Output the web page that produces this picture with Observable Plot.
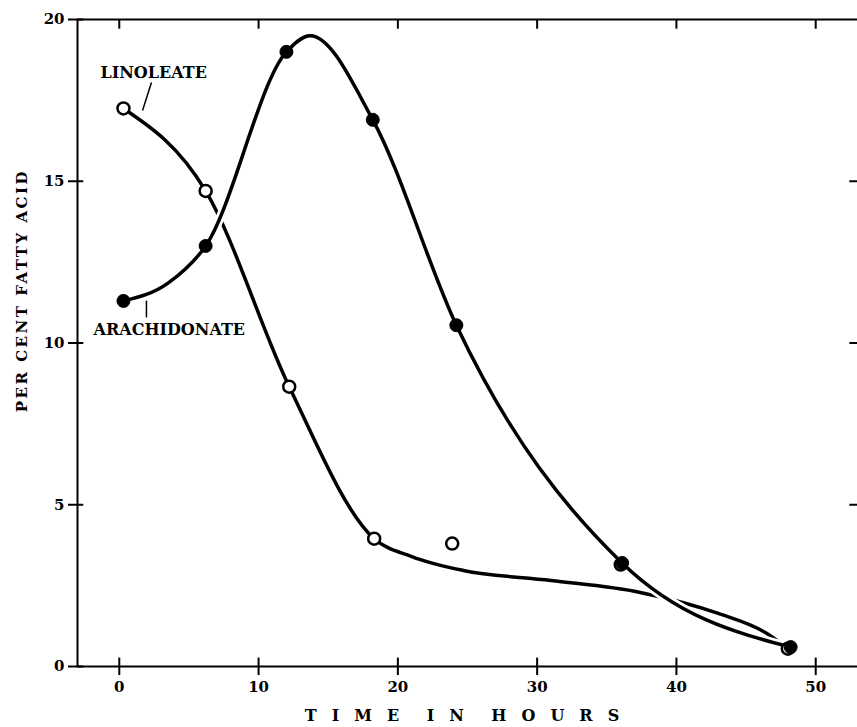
<!DOCTYPE html>
<html><head><meta charset="utf-8">
<script src="https://cdn.jsdelivr.net/npm/d3@7"></script>
<script src="https://cdn.jsdelivr.net/npm/@observablehq/plot@0.6"></script>
<style>body{margin:0;background:#fff} svg{display:block}</style>
</head><body><div id="chart"></div>
<script>
// measured points
const linoleateHours = [0.3, 6.2, 12.2, 18.3, 23.9, 36.0, 48.0];
const linoleateValues = [17.25, 14.7, 8.65, 3.95, 3.8, 3.15, 0.55];
const arachidonateHours = [0.3, 6.2, 12.0, 18.2, 24.2, 36.1, 48.2];
const arachidonateValues = [11.3, 13.0, 19.0, 16.9, 10.55, 3.2, 0.6];
// hand-drawn curves
const linoleateCurveHours = [0.3, 6.2, 12.2, 18.3, 21.0, 24.7, 31.0, 37.4, 43.0, 46.5, 48.0];
const linoleateCurveValues = [17.25, 14.7, 8.65, 3.95, 3.4, 2.97, 2.66, 2.29, 1.64, 1.02, 0.55];
const arachidonateCurveHours = [0.3, 3.5, 6.2, 12.0, 13.7, 18.2, 24.2, 36.1, 48.2];
const arachidonateCurveValues = [11.3, 11.85, 13.0, 19.0, 19.5, 16.9, 10.55, 3.2, 0.6];
const xTicks = [0, 10, 20, 30, 40, 50];
const yTicks = [0, 5, 10, 15, 20];
const seriesLabels = ["LINOLEATE", "ARACHIDONATE"];
const xTitle = "TIME IN HOURS";
const yTitle = "PER CENT FATTY ACID";

const lin = linoleateHours.map((t, i) => ({t, v: linoleateValues[i]}));
const ara = arachidonateHours.map((t, i) => ({t, v: arachidonateValues[i]}));
const linCurve = linoleateCurveHours.map((t, i) => ({t, v: linoleateCurveValues[i]}));
const araCurve = arachidonateCurveHours.map((t, i) => ({t, v: arachidonateCurveValues[i]}));

const font = "DejaVu Serif, Liberation Serif, serif";
const chart = Plot.plot({
  width: 857, height: 727,
  marginLeft: 77, marginRight: 0, marginTop: 19, marginBottom: 61,
  x: {domain: [-3, 53], label: null},
  y: {domain: [0, 20], label: null},
  style: {fontFamily: font, background: "#fff", color: "#000"},
  marks: [
    // frame lines
    Plot.ruleY([0, 20], {stroke: "#000", strokeWidth: 2}),
    Plot.ruleX([-3], {y1: 0, y2: 20, stroke: "#000", strokeWidth: 2}),
    // ticks crossing bottom axis
    Plot.ruleX(xTicks, {y1: -0.28, y2: 0.26, stroke: "#000", strokeWidth: 2}),
    // ticks hanging from top line
    Plot.ruleX(xTicks, {y1: 20, y2: 19.7, stroke: "#000", strokeWidth: 2}),
    // ticks crossing left axis
    Plot.ruleY(yTicks, {x1: -3.65, x2: -2.55, stroke: "#000", strokeWidth: 2}),
    // right edge ticks
    Plot.ruleY(yTicks.filter(d => d > 0 && d < 20), {x1: 52.45, x2: 53, stroke: "#000", strokeWidth: 2}),
    Plot.axisX({ticks: xTicks, tickSize: 0, tickPadding: 15, fontSize: 15, fontWeight: "bold", anchor: "bottom", label: null}),
    Plot.axisY({ticks: yTicks, tickSize: 0, tickPadding: 13, fontSize: 15, fontWeight: "bold", anchor: "left", label: null}),
    // curves
    Plot.line(linCurve, {x: "t", y: "v", curve: "monotone-x", stroke: "#000", strokeWidth: 3.5}),
    Plot.line(araCurve, {x: "t", y: "v", curve: "monotone-x", stroke: "#fff", strokeWidth: 9}),
    Plot.line(araCurve, {x: "t", y: "v", curve: "monotone-x", stroke: "#000", strokeWidth: 3.5}),
    // points
    Plot.dot(lin, {x: "t", y: "v", r: 6, fill: "#fff", stroke: "#000", strokeWidth: 2.5}),
    Plot.dot(ara, {x: "t", y: "v", r: 6.5, fill: "#000", stroke: "#000", strokeWidth: 1}),
    // labels and leaders
    Plot.text([seriesLabels[0]], {x: -1.35, y: 18.35, text: d => d, textAnchor: "start", fontSize: 16, fontWeight: "bold"}),
    Plot.link([0], {x1: 2.31, y1: 18.05, x2: 1.67, y2: 17.19, stroke: "#000", strokeWidth: 1.5}),
    Plot.text([seriesLabels[1]], {x: -1.85, y: 10.42, text: d => d, textAnchor: "start", fontSize: 16, fontWeight: "bold"}),
    Plot.link([0], {x1: 1.95, y1: 11.31, x2: 1.95, y2: 10.79, stroke: "#000", strokeWidth: 1.5}),
    // axis titles
    Plot.text([xTitle], {frameAnchor: "bottom", text: d => d, dy: 49, dx: 2, lineAnchor: "middle", textAnchor: "middle", fontSize: 16, fontWeight: "bold"}),
    Plot.text([yTitle], {x: -7.0, y: 11.62, text: d => d, rotate: -90, textAnchor: "middle", lineAnchor: "middle", fontSize: 15, fontWeight: "bold"})
  ]
});
d3.select(chart).selectAll("text").filter(function() { return this.textContent === xTitle; })
  .style("letter-spacing", "15px").style("word-spacing", "-8px");
d3.select(chart).selectAll("text").filter(function() { return this.textContent === yTitle; })
  .style("letter-spacing", "2.5px");
document.getElementById("chart").appendChild(chart);
</script>
</body></html>
